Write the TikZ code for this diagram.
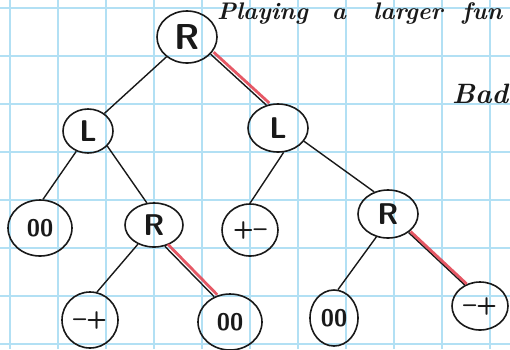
\documentclass[tikz,border=0pt]{standalone}
\usetikzlibrary{shapes.geometric}
\definecolor{gridblue}{RGB}{178,224,244}
\definecolor{pen}{RGB}{25,25,25}
\definecolor{redpen}{RGB}{228,70,85}
\tikzset{
  nd/.style={ellipse, draw=pen, line width=1.6pt, inner sep=0pt, text=pen},
  big/.style={font=\sffamily\bfseries\fontsize{36}{36}\selectfont},
  mid/.style={font=\sffamily\bfseries\fontsize{30}{30}\selectfont},
  small/.style={font=\sffamily\bfseries\fontsize{24}{24}\selectfont},
  edge/.style={draw=pen, line width=1.4pt},
  hl/.style={draw=redpen, line width=2.8pt, opacity=0.9},
  gridline/.style={draw=gridblue, line width=1.2pt},
  scrawl/.style={font=\bfseries\itshape\fontsize{24}{24}\selectfont, text=pen, inner sep=0pt}
}
\begin{document}
\begin{tikzpicture}[x=1pt,y=-1pt]
\useasboundingbox (0,0) rectangle (510,349);
\clip (0,0) rectangle (510,349);
\fill[white] (0,0) rectangle (510,349);
\foreach \gx in {10,58,...,490} \draw[gridline] (\gx,0) -- (\gx,349);
\foreach \gy in {8,56,...,344} \draw[gridline] (0,\gy) -- (510,\gy);

% handwriting at top and right
\node[scrawl, anchor=base east] (w1) at (308,19) {Playing};
\node[scrawl, anchor=base] (w2) at (339,19) {a};
\node[scrawl, anchor=base] (w3) at (408,19) {larger};
\node[scrawl, anchor=base west] (w4) at (462,19) {fun};
\node[scrawl, font=\bfseries\itshape\fontsize{28}{28}\selectfont, anchor=base west] (bad) at (452,103) {Bad};

% nodes
\node[nd, big, minimum width=60pt, minimum height=52pt] (R) at (187,37) {R};
\node[nd, mid, minimum width=50pt, minimum height=44pt] (L) at (88,131) {L};
\node[nd, mid, minimum width=60pt, minimum height=48pt] (Lr) at (278,128) {L};
\node[nd, small, minimum width=64pt, minimum height=56pt] (ooL) at (40,228) {00};
\node[nd, mid, minimum width=58pt, minimum height=44pt] (Rm) at (154,225) {R};
\node[nd, small, minimum width=56pt, minimum height=52pt] (pm) at (250,230) {+--};
\node[nd, mid, minimum width=60pt, minimum height=48pt] (Rr) at (388,214) {R};
\node[nd, small, minimum width=56pt, minimum height=56pt] (mpL) at (90,320) {--+};
\node[nd, small, minimum width=64pt, minimum height=56pt] (ooM) at (230,322) {00};
\node[nd, small, minimum width=48pt, minimum height=56pt] (ooR) at (334,318) {00};
\node[nd, small, minimum width=56pt, minimum height=48pt] (mpR) at (480,306) {--+};

% edges
\draw[edge] (R.-136) -- (L.47);
\draw[edge] (R.-36) -- (Lr.117);
\draw[edge] (L.-120) -- (ooL.84);
\draw[edge] (L.-38) -- (Rm.108);
\draw[edge] (Lr.-77) -- (pm.90);
\draw[edge] (Lr.-27) -- (Rr.122);
\draw[edge] (Rm.-130) -- (mpL.76);
\draw[edge] (Rm.-63) -- (ooM.122);
\draw[edge] (Rr.-117) -- (ooR.82);
\draw[edge] (Rr.-42) -- (mpR.126);

% red highlights
\draw[hl] ([shift={(3,-2)}]R.-36) -- ([shift={(3,-2)}]Lr.117);
\draw[hl] ([shift={(3,-2)}]Rm.-63) -- ([shift={(3,-2)}]ooM.122);
\draw[hl] ([shift={(2,-1)}]Rr.-42) -- ([shift={(2,-1)}]mpR.126);
\end{tikzpicture}
\end{document}
